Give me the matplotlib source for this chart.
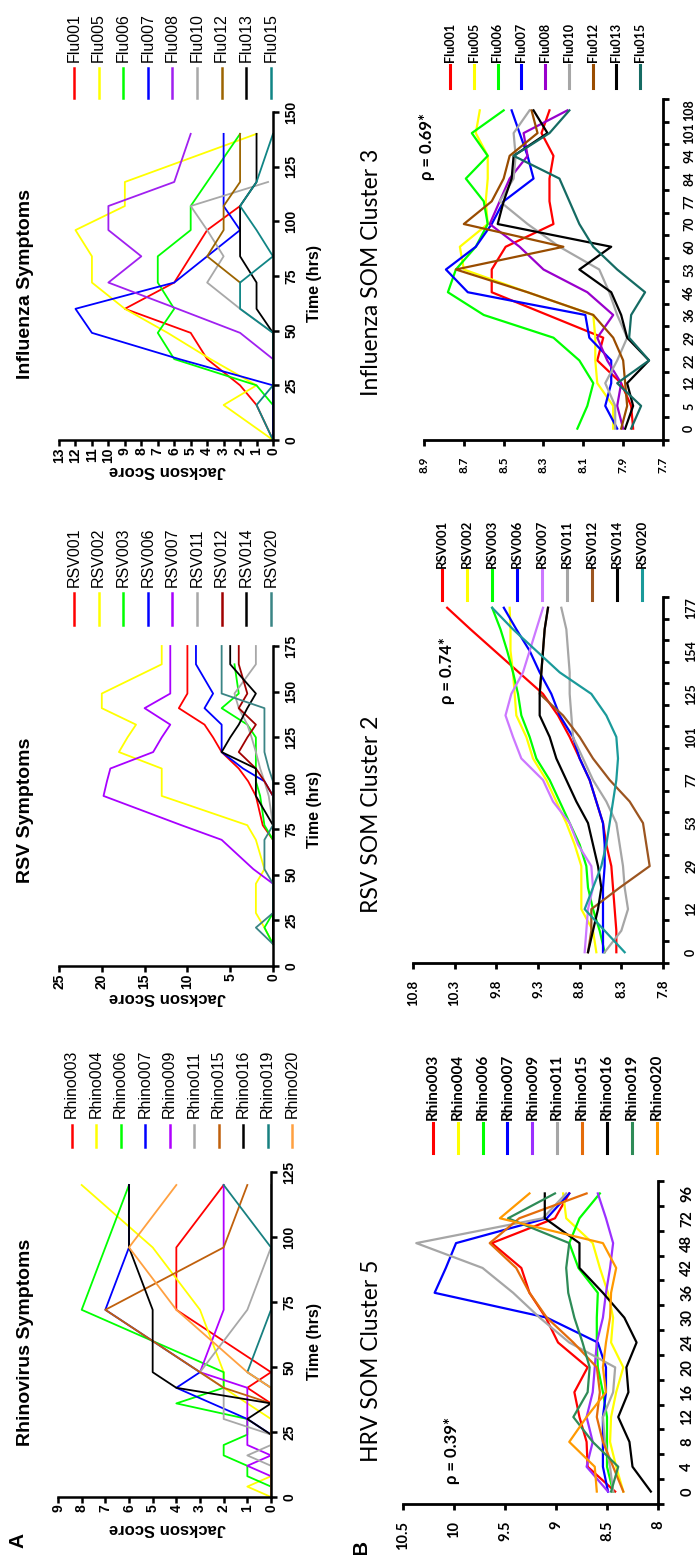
import numpy as np
import matplotlib.pyplot as plt
from matplotlib.lines import Line2D

# ---------------- data: panel A (Jackson symptom scores) ----------------
rhino_names = ['Rhino003', 'Rhino004', 'Rhino006', 'Rhino007', 'Rhino009',
               'Rhino011', 'Rhino015', 'Rhino016', 'Rhino019', 'Rhino020']
rhino_hrs = [0, 4, 8, 12, 16, 20, 24, 30, 36, 42, 48, 72, 96, 120]
rhino_scores = [
    [0, 0, 0, 0, 0, 0, 0, 0, 0, 1, 0, 4, 4, 2],
    [0, 1, 0, 0, 0, 0, 0, 0, 1, 2, 2, 3, 5, 8],
    [0, 0, 1, 1, 2, 2, 1, 1, 4, 2, 2, 8, 7, 6],
    [0, 0, 0, 0, 0, 0, 0, 1, 2.5, 4, 3, 7, 6, 6],
    [0, 0, 0, 1, 0, 1, 1, 1, 1, 1, 3, 2, 2, 2],
    [0, 0, 0, 0, 1, 0, 0, 2, 2, 2, 3, 1, 0, 0],
    [0, 0, 0, 0, 0, 0, 0, 0, 0, 2, 3, 7, 2, 1],
    [0, 0, 0, 0, 0, 0, 0, 1, 0, 4, 5, 5, 6, 6],
    [0, 0, 0, 0, 0, 0, 0, 0, 0, 0, 1, 0, 0, 2],
    [0, 0, 0, 0, 0, 0, 0, 0, 0, 0, 1, 4, 6, 4],
]
rhino_colors_a = ['#FF0000', '#FFFF00', '#00FF00', '#0000FF', '#B000FF',
                  '#A8A8A8', '#C0600C', '#000000', '#188080', '#FFA040']

nan = np.nan
rsv_names = ['RSV001', 'RSV002', 'RSV003', 'RSV006', 'RSV007',
             'RSV011', 'RSV012', 'RSV014', 'RSV020']
rsv_hrs = [12, 21, 29, 45, 53, 69, 77, 93, 101, 108, 117, 125, 132, 141, 149, 165, 175]
rsv_scores = [
    [0, 0, 0, 0, 0, 0, 1.2, 2, 2.9, 4, 6, 7, 8, 11, 10, 10, 10],
    [0, 1, 2, 2, 1, 2, 3, 13, 13, 13, 18, 17, 16, 20, 20, 13, 13],
    [0, 1, 0, 0, 0, 0, 1, 1.5, 2, 2, 2, 2, 3, 6, 4, 4.5, nan],
    [0, 0, 0, 0, 0, 0, 0, 0, 1, 3.5, 6, 6, 6, 8, 7, 9, 9],
    [nan, nan, nan, 0, 2.3, 6, 10.7, 19.8, 19.4, 19, 14, 13, 12, 15, 12, 12, 12],
    [0, 0, 0, 0, 0, 0, 0, 0.5, 1, 1.5, 2, 2.5, 3, 4, 4.5, 2, 2],
    [0, 0, 0, 0, 0, 0, 0, 0, 1, 2, 4, 3, 2, 4, 3, 4, 4],
    [0, 0, 0, 0, 0, 0, 0, 2, 2, 2, 6, 5, 4, 3, 2, 5, 5],
    [0, 2, 0, 0, 1, 1, 0, 0, 0, 0.5, 1, 1, 1, 1, 6, 6, 6],
]
rsv_colors_a = ['#FF0000', '#FFFF00', '#00FF00', '#0000FF', '#A800FF',
                '#A8A8A8', '#A00000', '#000000', '#3A8585']

flu_names = ['Flu001', 'Flu005', 'Flu006', 'Flu007', 'Flu008',
             'Flu010', 'Flu012', 'Flu013', 'Flu015']
flu_hrs = [0, 16, 25, 37, 49, 60, 72, 84, 96, 107, 118, 140]
flu_scores = [
    [0, 1, 2, 4, 5, 9, 6, 5, 4, 2, nan, nan],
    [0, 3, 1, 3.8, 6.4, 9, 11, 11, 12, 9, 9, 1],
    [0, 0, 1, 6, 7, 6, 7, 7, 5, 5, 4, 2],
    [0, 0, 0, 5.7, 11, 12, 6, 4, 2, 3, 3, 3],
    [nan, nan, nan, 0, 2, 5.8, 10, 8, 10, 10, 6, 5],
    [nan, nan, nan, nan, 0, 2, 4, 3, 4, 5, 0.3, nan],
    [nan, nan, nan, nan, nan, nan, 2, 4, 3, 3, 2, 2],
    [nan, nan, nan, nan, 0, 1, 1, 2, 2, 2, 1, 1],
    [0, 1, 0, 0, 0, 2, 2, 0, 1, 2, 1, 0],
]
flu_colors_a = ['#FF0000', '#FFFF00', '#00FF00', '#0000FF', '#A020F0',
                '#A8A8A8', '#9C6400', '#000000', '#108585']

# ---------------- data: panel B (SOM cluster expression) ----------------
hrv_cats = ['0', '4', '8', '12', '16', '20', '24', '30', '36', '42', '48', '72', '96']
hrv_expr = [
    [8.42, 8.69, 8.70, 8.77, 8.82, 8.69, 8.98, 9.10, 9.26, 9.34, 9.63, 9.01, 8.87],
    [8.34, 8.41, 8.47, 8.46, 8.41, 8.34, 8.46, 8.44, 8.49, 8.57, 8.64, 8.90, 8.93],
    [8.44, 8.50, 8.50, 8.50, 8.54, 8.59, 8.60, 8.60, 8.59, 8.78, 8.87, 8.77, 8.57],
    [8.49, 8.54, 8.54, 8.54, 8.51, 8.51, 8.59, 9.09, 10.19, 10.08, 9.98, 9.09, 8.87],
    [8.49, 8.70, 8.64, 8.70, 8.64, 8.62, 8.60, 8.54, 8.51, 8.47, 8.44, 8.51, 8.59],
    [8.44, 8.47, 8.52, 8.54, 8.44, 8.42, 8.87, 9.16, 9.42, 9.72, 10.37, 9.13, 8.90],
    [8.34, 8.44, 8.54, 8.60, 8.57, 8.60, 8.83, 9.09, 9.26, 9.39, 9.65, 9.36, 8.70],
    [8.07, 8.25, 8.28, 8.39, 8.29, 8.31, 8.21, 8.33, 8.54, 8.77, 8.77, 9.11, 9.11],
    [8.46, 8.39, 8.64, 8.83, 8.69, 8.67, 8.74, 8.82, 8.88, 8.90, 8.87, 9.47, 9.01],
    [8.60, 8.62, 8.87, 8.70, 8.51, 8.54, 8.51, 8.47, 8.46, 8.41, 8.54, 9.55, 9.26],
]
hrv_vticks = [8, 8.5, 9, 9.5, 10, 10.5]
rhino_colors_b = ['#FF0000', '#FFFF00', '#00FF00', '#0000FF', '#9B30FF',
                  '#A6A6A6', '#E46C0A', '#000000', '#2E8B57', '#FF9900']

rsvb_cats = ['0', '', '12', '', '29', '', '53', '', '77', '', '101', '', '125', '', '154', '', '177']
rsvb_expr = [
    [8.36, 8.36, 8.38, 8.40, 8.42, 8.48, 8.52, 8.60, 8.68, 8.80, 8.92, 9.06, 9.24, 9.53, 9.82, 10.11, 10.39],
    [8.60, 8.64, 8.78, 8.78, 8.78, 8.86, 8.96, 9.08, 9.20, 9.36, 9.44, 9.56, 9.58, 9.60, 9.63, 9.63, 9.64],
    [8.50, 8.56, 8.64, 8.70, 8.72, 8.80, 8.92, 9.04, 9.16, 9.32, 9.40, 9.50, 9.54, 9.60, 9.67, 9.75, 9.85],
    [8.52, 8.52, 8.52, 8.52, 8.50, 8.50, 8.52, 8.60, 8.68, 8.80, 8.88, 9.04, 9.14, 9.28, 9.40, 9.56, 9.71],
    [8.74, 8.72, 8.70, 8.64, 8.66, 8.82, 8.92, 9.12, 9.24, 9.50, 9.60, 9.69, 9.62, 9.48, 9.40, 9.32, 9.24],
    [8.50, 8.30, 8.22, 8.26, 8.28, 8.32, 8.36, 8.48, 8.64, 8.76, 8.88, 8.90, 8.92, 8.92, 8.94, 8.96, 9.02],
    [8.70, 8.66, 8.66, 8.32, 7.96, 8.00, 8.04, 8.20, 8.44, 8.64, 8.80, 9.00, 9.28, 9.26, 9.24, 9.22, 9.18],
    [8.70, 8.64, 8.58, 8.54, 8.58, 8.64, 8.70, 8.84, 8.96, 9.08, 9.16, 9.28, 9.28, 9.26, 9.24, 9.22, 9.18],
    [8.26, 8.50, 8.74, 8.64, 8.54, 8.48, 8.44, 8.40, 8.36, 8.34, 8.36, 8.48, 8.66, 9.04, 9.32, 9.60, 9.85],
]
rsvb_vticks = [7.8, 8.3, 8.8, 9.3, 9.8, 10.3, 10.8]
rsv_colors_b = ['#FF0000', '#FFFF00', '#00FF00', '#0000FF', '#CC77FF',
                '#A6A6A6', '#9C5520', '#000000', '#1A9A9A']

flub_cats = ['0', '5', '12', '22', '29', '36', '46', '53', '60', '70', '77', '84', '94', '101', '108']
flub_expr = [
    [7.85, 7.86, 7.91, 8.03, 8.00, 8.28, 8.56, 8.56, 8.49, 8.25, 8.27, 8.27, 8.25, 8.31, 8.27],
    [7.95, 7.95, 8.03, 8.04, 8.04, 8.05, 8.38, 8.70, 8.72, 8.58, 8.59, 8.58, 8.58, 8.64, 8.62],
    [8.13, 8.08, 8.05, 8.12, 8.25, 8.60, 8.78, 8.74, 8.64, 8.58, 8.60, 8.69, 8.58, 8.66, 8.50],
    [7.93, 7.99, 7.96, 7.96, 8.07, 8.09, 8.68, 8.79, 8.64, 8.56, 8.50, 8.35, 8.38, 8.42, 8.46],
    [7.90, 7.93, 7.91, 7.98, 8.03, 7.95, 8.08, 8.30, 8.42, 8.57, 8.52, 8.47, 8.38, 8.40, 8.18],
    [7.94, 7.94, 7.99, 7.93, 7.88, 7.93, 7.97, 8.02, 8.22, 8.38, 8.52, 8.45, 8.44, 8.45, 8.37],
    [7.91, 7.88, 7.89, 7.90, 7.95, 8.05, 8.38, 8.74, 8.20, 8.70, 8.56, 8.50, 8.47, 8.33, 8.36],
    [7.89, 7.85, 7.88, 7.77, 7.88, 7.91, 7.96, 8.12, 7.96, 8.53, 8.50, 8.46, 8.45, 8.28, 8.35],
    [7.86, 7.81, 7.93, 7.77, 7.87, 7.86, 7.79, 7.93, 8.05, 8.12, 8.17, 8.22, 8.45, 8.27, 8.17],
]
flub_vticks = [7.7, 7.9, 8.1, 8.3, 8.5, 8.7, 8.9]
flu_colors_b = ['#FF0000', '#FFFF00', '#00FF00', '#0000FF', '#9900CC',
                '#A6A6A6', '#994C00', '#000000', '#156B63']

# ---------------- figure (drawn turned 90 degrees, like the scan) ----------------
W, H = 697, 1555
ARIAL = 'Liberation Sans'
CAL = ['Lato', 'DejaVu Sans']


def fx(x):
    return x / W


def fy(y):
    return 1 - y / H


fig = plt.figure(figsize=(W / 100, H / 100), dpi=100)


def legend(names, colors, x0, dx, y_top, y_bot, y_text, family, size, weight, lw):
    for i, (n, c) in enumerate(zip(names, colors)):
        x = x0 + i * dx
        fig.add_artist(Line2D([fx(x), fx(x)], [fy(y_bot), fy(y_top)], color=c, lw=lw))
        fig.text(fx(x), fy(y_text), n, rotation=90, ha='center', va='bottom',
                 family=family, fontsize=size, fontweight=weight)


def symptom_panel(box, hrs, scores, colors, smax, sstep, tmax, title, ycen):
    x0, x1, ytop, ybot = box
    ax = fig.add_axes([fx(x0), fy(ybot), (x1 - x0) / W, (ybot - ytop) / H])
    for vals, c in zip(scores, colors):
        ax.plot(vals, hrs, color=c, lw=1.3, clip_on=False)
    ax.set_xlim(smax, 0)
    ax.set_ylim(0, tmax)
    st = np.arange(0, smax + 1, sstep)
    tt = np.arange(0, tmax + 1, 25)
    ax.set_xticks(st, [str(v) for v in st], rotation=90, fontsize=10,
                  fontweight='bold', family=ARIAL)
    ax.yaxis.tick_right()
    ax.set_yticks(tt, [str(v) for v in tt], rotation=90, va='center', fontsize=10,
                  fontweight='bold', family=ARIAL)
    for s in ['top', 'left']:
        ax.spines[s].set_visible(False)
    for s in ['bottom', 'right']:
        ax.spines[s].set_linewidth(1.8)
    ax.tick_params(axis='both', direction='out', length=4, width=1.8)
    ax.tick_params(axis='x', pad=1.5)
    ax.tick_params(axis='y', pad=4)
    fig.text(fx(26), fy(ycen), title, rotation=90, ha='center', va='center',
             family=ARIAL, fontsize=14, fontweight='bold')
    fig.text(fx(315), fy(ycen), 'Time (hrs)', rotation=90, ha='center', va='center',
             family=ARIAL, fontsize=11.5, fontweight='bold')
    fig.text(fx(167), fy(ybot + 31), 'Jackson Score', rotation=180, ha='center',
             va='center', family=ARIAL, fontsize=12, fontweight='bold')
    return ax


def som_panel(box, cats, expr, colors, vticks, title, ycen, rho, rho_xy,
              vsize, csize, cpad):
    x0, x1, ytop, ybot = box
    ax = fig.add_axes([fx(x0), fy(ybot), (x1 - x0) / W, (ybot - ytop) / H])
    n = len(cats)
    idx = np.arange(n)
    for vals, c in zip(expr, colors):
        ax.plot(vals, idx, color=c, lw=1.6)
    ax.set_xlim(vticks[-1], vticks[0])
    ax.set_ylim(-0.5, n - 0.5)
    ax.set_xticks(vticks, [f'{v:g}' for v in vticks], rotation=90, fontsize=vsize,
                  fontweight='bold', family=CAL)
    ax.yaxis.tick_right()
    ax.set_yticks(idx, cats, rotation=90, va='center', fontsize=csize,
                  fontweight='bold', family=CAL)
    ax.set_yticks(np.arange(-0.5, n), minor=True)
    for s in ['top', 'left']:
        ax.spines[s].set_visible(False)
    for s in ['bottom', 'right']:
        ax.spines[s].set_linewidth(2)
    ax.tick_params(axis='x', direction='out', length=4, width=2, pad=8)
    ax.tick_params(axis='y', which='major', length=0, pad=cpad)
    ax.tick_params(axis='y', which='minor', direction='out', length=4, width=2)
    fig.text(fx(372), fy(ycen), title, rotation=90, ha='center', va='center',
             family=CAL, fontsize=16.5)
    fig.text(fx(rho_xy[0]), fy(rho_xy[1]), rho, rotation=90, ha='center', va='center',
             family=CAL, fontsize=12, fontweight='bold')
    return ax


# panel A
symptom_panel((58, 271, 1172, 1497), rhino_hrs, rhino_scores, rhino_colors_a,
              9, 1, 125, 'Rhinovirus Symptoms', 1342)
legend(rhino_names, rhino_colors_a, 71.7, 24.5, 1125, 1147, 1118, ARIAL, 11.5, 'normal', 1.8)

symptom_panel((59, 273, 646, 966), rsv_hrs, rsv_scores, rsv_colors_a,
              25, 5, 175, 'RSV Symptoms', 810)
legend(rsv_names, rsv_colors_a, 74, 24.6, 593, 625, 587, ARIAL, 11.5, 'normal', 1.8)

symptom_panel((59, 273, 112, 440), flu_hrs, flu_scores, flu_colors_a,
              13, 1, 150, 'Influenza Symptoms', 284)
legend(flu_names, flu_colors_a, 74, 24.6, 68, 98, 62, ARIAL, 11.5, 'normal', 1.8)

# panel B
som_panel((403, 658, 1181, 1504), hrv_cats, hrv_expr, rhino_colors_b, hrv_vticks,
          'HRV SOM Cluster 5', 1361, 'ρ = 0.39*', (452, 1450), 10.5, 10.5, 16)
legend(rhino_names, rhino_colors_b, 432.7, 24.9, 1123, 1153, 1120, CAL, 11, 'bold', 2.2)

som_panel((413, 663, 597, 963), rsvb_cats, rsvb_expr, rsv_colors_b, rsvb_vticks,
          'RSV SOM Cluster 2', 814, 'ρ = 0.74*', (447, 671), 9.5, 9, 16)
legend(rsv_names, rsv_colors_b, 441.7, 25.0, 570, 600, 568, CAL, 9.5, 'bold', 2.2)

som_panel((424, 663, 99, 440), flub_cats, flub_expr, flu_colors_b, flub_vticks,
          'Influenza SOM Cluster 3', 272, 'ρ = 0.69*', (427, 147), 8.5, 9, 14.5)
legend(flu_names, flu_colors_b, 450, 23.75, 65, 88, 62, CAL, 9, 'bold', 2.2)

fig.text(fx(18), fy(1540), 'A', rotation=90, ha='center', va='center',
         family=ARIAL, fontsize=15, fontweight='bold')
fig.text(fx(361), fy(1547), 'B', rotation=90, ha='center', va='center',
         family=ARIAL, fontsize=15, fontweight='bold')

fig.savefig('out.png', dpi=100)
